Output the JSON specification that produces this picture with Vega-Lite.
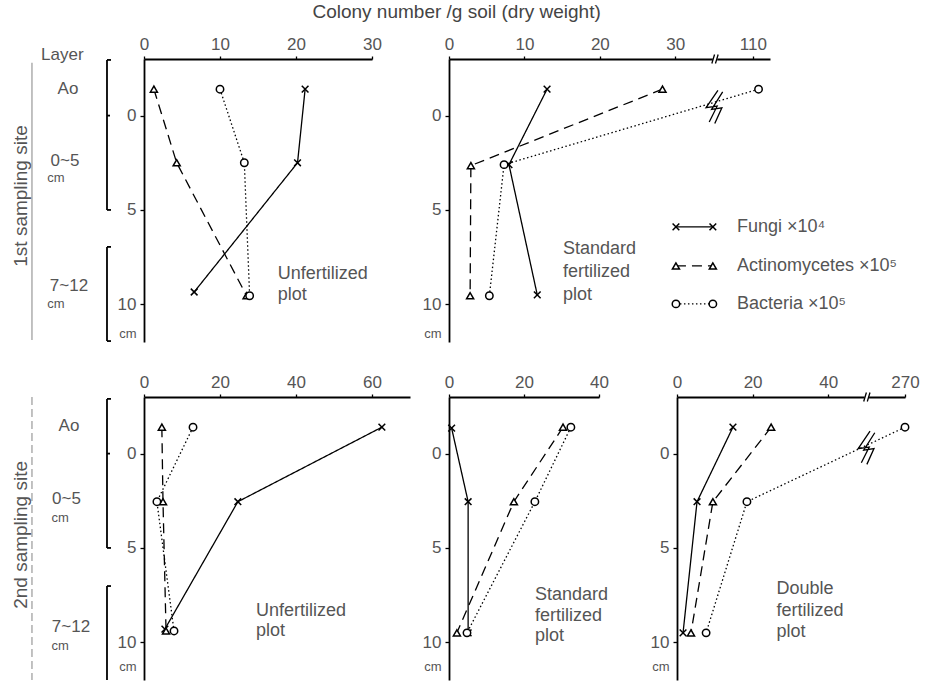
{
  "$schema": "https://vega.github.io/schema/vega-lite/v6.json",
  "padding": {"left": 0, "right": 0, "top": 3, "bottom": 0},
  "background": "white",
  "title": {"text": "Colony number  /g soil (dry weight)", "fontSize": 19, "font": "Liberation Sans", "fontWeight": "normal", "color": "#444", "anchor": "middle", "dx": -3, "offset": 13},
  "config": {
    "view": {"stroke": null},
    "text": {"font": "Liberation Sans"},
    "axis": {"domainColor": "black", "domainWidth": 1.8, "tickColor": "black", "tickWidth": 1.3, "labelColor": "#555", "labelFont": "Liberation Sans", "labelFontSize": 17, "labelFlush": false, "labelOverlap": false, "grid": false},
    "axisTop": {"tickSize": 3, "labelPadding": 3},
    "axisLeft": {"tickSize": 4, "labelPadding": 4}
  },
  "datasets": {
    "obs": [
      {"panel": "A", "series": "Fungi", "value": 21.2, "depth": -1.4},
      {"panel": "A", "series": "Fungi", "value": 20.2, "depth": 2.5},
      {"panel": "A", "series": "Fungi", "value": 6.6, "depth": 9.35},
      {"panel": "A", "series": "Actinomycetes", "value": 1.3, "depth": -1.4},
      {"panel": "A", "series": "Actinomycetes", "value": 4.3, "depth": 2.5},
      {"panel": "A", "series": "Actinomycetes", "value": 13.5, "depth": 9.55},
      {"panel": "A", "series": "Bacteria", "value": 10.0, "depth": -1.4},
      {"panel": "A", "series": "Bacteria", "value": 13.2, "depth": 2.5},
      {"panel": "A", "series": "Bacteria", "value": 13.9, "depth": 9.55},
      {"panel": "B", "series": "Fungi", "value": 13.0, "depth": -1.4},
      {"panel": "B", "series": "Fungi", "value": 7.95, "depth": 2.6},
      {"panel": "B", "series": "Fungi", "value": 11.7, "depth": 9.5},
      {"panel": "B", "series": "Actinomycetes", "value": 28.3, "depth": -1.4},
      {"panel": "B", "series": "Actinomycetes", "value": 2.9, "depth": 2.65},
      {"panel": "B", "series": "Actinomycetes", "value": 2.8, "depth": 9.55},
      {"panel": "B", "series": "Bacteria", "value": 110.8, "depth": -1.4},
      {"panel": "B", "series": "Bacteria", "value": 7.3, "depth": 2.6},
      {"panel": "B", "series": "Bacteria", "value": 5.35, "depth": 9.55},
      {"panel": "C", "series": "Fungi", "value": 62.6, "depth": -1.4},
      {"panel": "C", "series": "Fungi", "value": 24.7, "depth": 2.55},
      {"panel": "C", "series": "Fungi", "value": 5.5, "depth": 9.3},
      {"panel": "C", "series": "Actinomycetes", "value": 4.7, "depth": -1.4},
      {"panel": "C", "series": "Actinomycetes", "value": 5.0, "depth": 2.55},
      {"panel": "C", "series": "Actinomycetes", "value": 5.8, "depth": 9.4},
      {"panel": "C", "series": "Bacteria", "value": 12.9, "depth": -1.4},
      {"panel": "C", "series": "Bacteria", "value": 3.4, "depth": 2.55},
      {"panel": "C", "series": "Bacteria", "value": 7.9, "depth": 9.4},
      {"panel": "D", "series": "Fungi", "value": 0.7, "depth": -1.35},
      {"panel": "D", "series": "Fungi", "value": 5.1, "depth": 2.55},
      {"panel": "D", "series": "Fungi", "value": 5.1, "depth": 9.5},
      {"panel": "D", "series": "Actinomycetes", "value": 30.4, "depth": -1.4},
      {"panel": "D", "series": "Actinomycetes", "value": 17.3, "depth": 2.55},
      {"panel": "D", "series": "Actinomycetes", "value": 2.1, "depth": 9.5},
      {"panel": "D", "series": "Bacteria", "value": 32.5, "depth": -1.4},
      {"panel": "D", "series": "Bacteria", "value": 22.9, "depth": 2.55},
      {"panel": "D", "series": "Bacteria", "value": 4.8, "depth": 9.5},
      {"panel": "E", "series": "Fungi", "value": 14.8, "depth": -1.4},
      {"panel": "E", "series": "Fungi", "value": 5.3, "depth": 2.55},
      {"panel": "E", "series": "Fungi", "value": 1.6, "depth": 9.5},
      {"panel": "E", "series": "Actinomycetes", "value": 24.9, "depth": -1.4},
      {"panel": "E", "series": "Actinomycetes", "value": 9.5, "depth": 2.55},
      {"panel": "E", "series": "Actinomycetes", "value": 3.7, "depth": 9.5},
      {"panel": "E", "series": "Bacteria", "value": 270, "depth": -1.4},
      {"panel": "E", "series": "Bacteria", "value": 18.5, "depth": 2.55},
      {"panel": "E", "series": "Bacteria", "value": 7.7, "depth": 9.5}
    ],
    "notes": [
      {"panel": "A", "text": "Unfertilized", "value": 17.6, "depth": 8.4},
      {"panel": "A", "text": "plot", "value": 17.6, "depth": 9.53},
      {"panel": "B", "text": "Standard", "value": 15.1, "depth": 7.07},
      {"panel": "B", "text": "fertilized", "value": 15.1, "depth": 8.29},
      {"panel": "B", "text": "plot", "value": 15.1, "depth": 9.5},
      {"panel": "C", "text": "Unfertilized", "value": 29.5, "depth": 8.34},
      {"panel": "C", "text": "plot", "value": 29.5, "depth": 9.4},
      {"panel": "D", "text": "Standard", "value": 22.9, "depth": 7.49},
      {"panel": "D", "text": "fertilized", "value": 22.9, "depth": 8.6},
      {"panel": "D", "text": "plot", "value": 22.9, "depth": 9.67},
      {"panel": "E", "text": "Double", "value": 26.3, "depth": 7.17},
      {"panel": "E", "text": "fertilized", "value": 26.3, "depth": 8.34},
      {"panel": "E", "text": "plot", "value": 26.3, "depth": 9.45}
    ],
    "breaks": [
      {"panel": "B", "kind": "gap", "value": 70, "depth": -3},
      {"panel": "B", "kind": "slash", "value": 70, "depth": -3},
      {"panel": "B", "kind": "zig", "value": 52, "depth": -0.5},
      {"panel": "E", "kind": "gap", "value": 70, "depth": -3},
      {"panel": "E", "kind": "slash", "value": 70, "depth": -3},
      {"panel": "E", "kind": "zig", "value": 52, "depth": -0.35}
    ],
    "leg": [
      {"series": "Fungi", "lx": 70.7, "depth": 5.9},
      {"series": "Fungi", "lx": 82.2, "depth": 5.9},
      {"series": "Actinomycetes", "lx": 70.7, "depth": 7.97},
      {"series": "Actinomycetes", "lx": 82.2, "depth": 7.97},
      {"series": "Bacteria", "lx": 70.7, "depth": 9.98},
      {"series": "Bacteria", "lx": 82.2, "depth": 9.98}
    ],
    "legtext": [
      {"text": "Fungi ×10⁴", "lx": 89.7, "depth": 5.9},
      {"text": "Actinomycetes  ×10⁵", "lx": 89.7, "depth": 7.97},
      {"text": "Bacteria  ×10⁵", "lx": 89.7, "depth": 9.98}
    ],
    "annText": [
      {"row": 1, "kind": "site", "text": "1st sampling site", "value": 14.9, "depth": 4.26},
      {"row": 1, "kind": "label", "text": "Layer", "value": 43.3, "depth": -3.2},
      {"row": 1, "kind": "label", "text": "Ao", "value": 47.2, "depth": -1.41},
      {"row": 1, "kind": "label", "text": "0~5", "value": 45.1, "depth": 2.43},
      {"row": 1, "kind": "unit", "text": "cm", "value": 38.9, "depth": 3.3},
      {"row": 1, "kind": "label", "text": "7~12", "value": 47.9, "depth": 9.03},
      {"row": 1, "kind": "unit", "text": "cm", "value": 38.9, "depth": 9.98},
      {"row": 2, "kind": "site", "text": "2nd sampling site", "value": 14.9, "depth": 4.31},
      {"row": 2, "kind": "label", "text": "Ao", "value": 47.9, "depth": -1.46},
      {"row": 2, "kind": "label", "text": "0~5", "value": 46.2, "depth": 2.4},
      {"row": 2, "kind": "unit", "text": "cm", "value": 41.7, "depth": 3.4},
      {"row": 2, "kind": "label", "text": "7~12", "value": 49.3, "depth": 9.19},
      {"row": 2, "kind": "unit", "text": "cm", "value": 41.7, "depth": 10.2}
    ],
    "brackets": [
      {"row": 1, "kind": "site", "value": 22.2, "depth": -2.8, "depth2": 11.9},
      {"row": 1, "kind": "bar", "value": 74.3, "depth": -2.95, "depth2": 5.0},
      {"row": 1, "kind": "bar", "value": 74.3, "depth": 6.96, "depth2": 11.95},
      {"row": 1, "kind": "serif", "value": 74.3, "value2": 77.1, "depth": -2.95},
      {"row": 1, "kind": "serif", "value": 74.3, "value2": 76.4, "depth": 0},
      {"row": 1, "kind": "serif", "value": 74.3, "value2": 77.1, "depth": 5.0},
      {"row": 1, "kind": "serif", "value": 74.3, "value2": 77.1, "depth": 6.96},
      {"row": 1, "kind": "serif", "value": 74.3, "value2": 77.1, "depth": 11.95},
      {"row": 2, "kind": "site", "value": 22.2, "depth": -3, "depth2": 12},
      {"row": 2, "kind": "bar", "value": 74.3, "depth": -2.9, "depth2": 5.0},
      {"row": 2, "kind": "bar", "value": 74.3, "depth": 7.02, "depth2": 12},
      {"row": 2, "kind": "serif", "value": 74.3, "value2": 77.1, "depth": -2.9},
      {"row": 2, "kind": "serif", "value": 74.3, "value2": 76.4, "depth": 0},
      {"row": 2, "kind": "serif", "value": 74.3, "value2": 77.1, "depth": 5.0},
      {"row": 2, "kind": "serif", "value": 74.3, "value2": 77.1, "depth": 7.02}
    ]
  },
  "bounds": "flush",
  "spacing": 338,
  "vconcat": [
    {
      "bounds": "flush",
      "spacing": 0,
      "hconcat": [
        {
          "width": 144, "height": 283,
          "encoding": {
            "x": {"field": "value", "type": "quantitative", "scale": {"domain": [0, 100], "nice": false, "zero": false}, "axis": null},
            "y": {"field": "depth", "type": "quantitative", "scale": {"domain": [-3, 12], "reverse": true, "nice": false, "zero": false}, "axis": null}
          },
          "layer": [
            {"data": {"name": "brackets"}, "transform": [{"filter": "datum.row === 1 && datum.kind === 'site'"}], "mark": {"type": "rule", "color": "#999", "strokeWidth": 1.2}, "encoding": {"y2": {"field": "depth2"}}},
            {"data": {"name": "brackets"}, "transform": [{"filter": "datum.row === 1 && datum.kind === 'bar'"}], "mark": {"type": "rule", "color": "black", "strokeWidth": 1.8}, "encoding": {"y2": {"field": "depth2"}}},
            {"data": {"name": "brackets"}, "transform": [{"filter": "datum.row === 1 && datum.kind === 'serif'"}], "mark": {"type": "rule", "color": "black", "strokeWidth": 1.8}, "encoding": {"x2": {"field": "value2"}}},
            {"data": {"name": "annText"}, "transform": [{"filter": "datum.row === 1 && datum.kind === 'label'"}], "mark": {"type": "text", "align": "center", "baseline": "middle", "fontSize": 17, "color": "#555"}, "encoding": {"text": {"field": "text", "type": "nominal"}}},
            {"data": {"name": "annText"}, "transform": [{"filter": "datum.row === 1 && datum.kind === 'unit'"}], "mark": {"type": "text", "align": "center", "baseline": "middle", "fontSize": 13, "color": "#555"}, "encoding": {"text": {"field": "text", "type": "nominal"}}},
            {"data": {"name": "annText"}, "transform": [{"filter": "datum.row === 1 && datum.kind === 'site'"}], "mark": {"type": "text", "align": "center", "baseline": "middle", "fontSize": 19, "angle": 270, "color": "#555"}, "encoding": {"text": {"field": "text", "type": "nominal"}}}
          ]
        },
        {
          "bounds": "flush",
          "spacing": 77,
          "hconcat": [
            {
              "width": 228, "height": 283,
              "encoding": {
                "x": {"field": "value", "type": "quantitative", "scale": {"domain": [0, 30], "nice": false, "zero": false}, "axis": {"orient": "top", "values": [0, 10, 20, 30], "title": null}},
                "y": {"field": "depth", "type": "quantitative", "scale": {"domain": [-3, 12], "reverse": true, "nice": false, "zero": false}, "axis": {"orient": "left", "values": [0, 5, 10, 11.55], "labelExpr": "datum.value > 11 ? 'cm' : datum.label", "title": null, "tickOpacity": {"condition": {"test": "datum.value > 11", "value": 0}, "value": 1}, "labelFontSize": {"condition": {"test": "datum.value > 11", "value": 13}, "value": 17}}}
              },
              "layer": [
                {"data": {"name": "obs"}, "transform": [{"filter": "datum.panel === 'A'"}], "mark": {"type": "line", "color": "black", "strokeWidth": 1.3}, "encoding": {"detail": {"field": "series", "type": "nominal"}, "strokeDash": {"field": "series", "type": "nominal", "scale": {"domain": ["Fungi", "Actinomycetes", "Bacteria"], "range": [[1, 0], [10, 6], [1.5, 2.5]]}, "legend": null}, "order": {"field": "depth", "type": "quantitative"}}},
                {"data": {"name": "obs"}, "transform": [{"filter": "datum.panel === 'A'"}], "mark": {"type": "point", "filled": true, "fill": "white", "stroke": "black", "strokeWidth": 1.5, "opacity": 1}, "encoding": {"shape": {"field": "series", "type": "nominal", "scale": {"domain": ["Fungi", "Actinomycetes", "Bacteria"], "range": ["M-1,-1L1,1M-1,1L1,-1", "triangle-up", "circle"]}, "legend": null}, "size": {"field": "series", "type": "ordinal", "scale": {"domain": ["Fungi", "Actinomycetes", "Bacteria"], "range": [45, 55, 70]}, "legend": null}}},
                {"data": {"name": "notes"}, "transform": [{"filter": "datum.panel === 'A'"}], "mark": {"type": "text", "align": "left", "baseline": "middle", "fontSize": 18, "color": "#555"}, "encoding": {"text": {"field": "text", "type": "nominal"}}}
              ]
            },
            {
              "width": 321, "height": 283,
              "resolve": {"scale": {"x": "independent"}, "axis": {"x": "independent"}},
              "layer": [
                {
                  "encoding": {
                    "x": {"field": "value", "type": "quantitative", "scale": {"domain": [0, 35, 105, 112.4], "range": [0, 264, 268, 321], "nice": false, "zero": false}, "axis": {"orient": "top", "values": [0, 10, 20, 30, 110], "title": null}},
                    "y": {"field": "depth", "type": "quantitative", "scale": {"domain": [-3, 12], "reverse": true, "nice": false, "zero": false}, "axis": {"orient": "left", "values": [0, 5, 10, 11.55], "labelExpr": "datum.value > 11 ? 'cm' : datum.label", "title": null, "tickOpacity": {"condition": {"test": "datum.value > 11", "value": 0}, "value": 1}, "labelFontSize": {"condition": {"test": "datum.value > 11", "value": 13}, "value": 17}}}
                  },
                  "layer": [
                    {"data": {"name": "obs"}, "transform": [{"filter": "datum.panel === 'B'"}], "mark": {"type": "line", "color": "black", "strokeWidth": 1.3}, "encoding": {"detail": {"field": "series", "type": "nominal"}, "strokeDash": {"field": "series", "type": "nominal", "scale": {"domain": ["Fungi", "Actinomycetes", "Bacteria"], "range": [[1, 0], [10, 6], [1.5, 2.5]]}, "legend": null}, "order": {"field": "depth", "type": "quantitative"}}},
                    {"data": {"name": "obs"}, "transform": [{"filter": "datum.panel === 'B'"}], "mark": {"type": "point", "filled": true, "fill": "white", "stroke": "black", "strokeWidth": 1.5, "opacity": 1}, "encoding": {"shape": {"field": "series", "type": "nominal", "scale": {"domain": ["Fungi", "Actinomycetes", "Bacteria"], "range": ["M-1,-1L1,1M-1,1L1,-1", "triangle-up", "circle"]}, "legend": null}, "size": {"field": "series", "type": "ordinal", "scale": {"domain": ["Fungi", "Actinomycetes", "Bacteria"], "range": [45, 55, 70]}, "legend": null}}},
                    {"data": {"name": "notes"}, "transform": [{"filter": "datum.panel === 'B'"}], "mark": {"type": "text", "align": "left", "baseline": "middle", "fontSize": 18, "color": "#555"}, "encoding": {"text": {"field": "text", "type": "nominal"}}},
                    {"data": {"name": "breaks"}, "transform": [{"filter": "datum.panel === 'B' && datum.kind === 'gap'"}], "mark": {"type": "point", "shape": "square", "filled": true, "fill": "white", "strokeWidth": 0, "size": 20, "opacity": 1}},
                    {"data": {"name": "breaks"}, "transform": [{"filter": "datum.panel === 'B' && datum.kind === 'slash'"}], "mark": {"type": "point", "shape": "M-0.7,1L-0.1,-1M0.1,1L0.7,-1", "filled": false, "stroke": "black", "strokeWidth": 1.3, "size": 81, "opacity": 1}},
                    {"data": {"name": "breaks"}, "transform": [{"filter": "datum.panel === 'B' && datum.kind === 'zig'"}], "mark": {"type": "point", "shape": "M0.25,-1L-0.5,0.1L0.2,0L-0.3,1M0.55,-0.9L-0.15,0.2L0.5,0.1L0.05,1.1", "filled": false, "stroke": "black", "strokeWidth": 1.3, "size": 1000, "opacity": 1}}
                  ]
                },
                {
                  "encoding": {
                    "x": {"field": "lx", "type": "quantitative", "scale": {"domain": [0, 100], "nice": false, "zero": false}, "axis": null},
                    "y": {"field": "depth", "type": "quantitative", "scale": {"domain": [-3, 12], "reverse": true, "nice": false, "zero": false}}
                  },
                  "layer": [
                    {"data": {"name": "leg"}, "mark": {"type": "line", "color": "black", "strokeWidth": 1.3}, "encoding": {"detail": {"field": "series", "type": "nominal"}, "strokeDash": {"field": "series", "type": "nominal", "scale": {"domain": ["Fungi", "Actinomycetes", "Bacteria"], "range": [[1, 0], [10, 6], [1.5, 2.5]]}, "legend": null}, "order": {"field": "lx", "type": "quantitative"}}},
                    {"data": {"name": "leg"}, "mark": {"type": "point", "filled": true, "fill": "white", "stroke": "black", "strokeWidth": 1.5, "opacity": 1}, "encoding": {"shape": {"field": "series", "type": "nominal", "scale": {"domain": ["Fungi", "Actinomycetes", "Bacteria"], "range": ["M-1,-1L1,1M-1,1L1,-1", "triangle-up", "circle"]}, "legend": null}, "size": {"field": "series", "type": "ordinal", "scale": {"domain": ["Fungi", "Actinomycetes", "Bacteria"], "range": [45, 55, 70]}, "legend": null}}},
                    {"data": {"name": "legtext"}, "mark": {"type": "text", "align": "left", "baseline": "middle", "fontSize": 18, "color": "#555"}, "encoding": {"text": {"field": "text", "type": "nominal"}}}
                  ]
                }
              ]
            }
          ]
        }
      ]
    },
    {
      "bounds": "flush",
      "spacing": 0,
      "hconcat": [
        {
          "width": 144, "height": 283,
          "encoding": {
            "x": {"field": "value", "type": "quantitative", "scale": {"domain": [0, 100], "nice": false, "zero": false}, "axis": null},
            "y": {"field": "depth", "type": "quantitative", "scale": {"domain": [-3, 12], "reverse": true, "nice": false, "zero": false}, "axis": null}
          },
          "layer": [
            {"data": {"name": "brackets"}, "transform": [{"filter": "datum.row === 2 && datum.kind === 'site'"}], "mark": {"type": "rule", "color": "#999", "strokeWidth": 1.2, "strokeDash": [8, 4]}, "encoding": {"y2": {"field": "depth2"}}},
            {"data": {"name": "brackets"}, "transform": [{"filter": "datum.row === 2 && datum.kind === 'bar'"}], "mark": {"type": "rule", "color": "black", "strokeWidth": 1.8}, "encoding": {"y2": {"field": "depth2"}}},
            {"data": {"name": "brackets"}, "transform": [{"filter": "datum.row === 2 && datum.kind === 'serif'"}], "mark": {"type": "rule", "color": "black", "strokeWidth": 1.8}, "encoding": {"x2": {"field": "value2"}}},
            {"data": {"name": "annText"}, "transform": [{"filter": "datum.row === 2 && datum.kind === 'label'"}], "mark": {"type": "text", "align": "center", "baseline": "middle", "fontSize": 17, "color": "#555"}, "encoding": {"text": {"field": "text", "type": "nominal"}}},
            {"data": {"name": "annText"}, "transform": [{"filter": "datum.row === 2 && datum.kind === 'unit'"}], "mark": {"type": "text", "align": "center", "baseline": "middle", "fontSize": 13, "color": "#555"}, "encoding": {"text": {"field": "text", "type": "nominal"}}},
            {"data": {"name": "annText"}, "transform": [{"filter": "datum.row === 2 && datum.kind === 'site'"}], "mark": {"type": "text", "align": "center", "baseline": "middle", "fontSize": 19, "angle": 270, "color": "#555"}, "encoding": {"text": {"field": "text", "type": "nominal"}}}
          ]
        },
        {
          "bounds": "flush",
          "spacing": 39,
          "hconcat": [
            {
              "width": 266, "height": 283,
              "encoding": {
                "x": {"field": "value", "type": "quantitative", "scale": {"domain": [0, 70], "nice": false, "zero": false}, "axis": {"orient": "top", "values": [0, 20, 40, 60], "title": null}},
                "y": {"field": "depth", "type": "quantitative", "scale": {"domain": [-3, 12], "reverse": true, "nice": false, "zero": false}, "axis": {"orient": "left", "values": [0, 5, 10, 11.3], "labelExpr": "datum.value > 11 ? 'cm' : datum.label", "title": null, "tickOpacity": {"condition": {"test": "datum.value > 11", "value": 0}, "value": 1}, "labelFontSize": {"condition": {"test": "datum.value > 11", "value": 13}, "value": 17}}}
              },
              "layer": [
                {"data": {"name": "obs"}, "transform": [{"filter": "datum.panel === 'C'"}], "mark": {"type": "line", "color": "black", "strokeWidth": 1.3}, "encoding": {"detail": {"field": "series", "type": "nominal"}, "strokeDash": {"field": "series", "type": "nominal", "scale": {"domain": ["Fungi", "Actinomycetes", "Bacteria"], "range": [[1, 0], [10, 6], [1.5, 2.5]]}, "legend": null}, "order": {"field": "depth", "type": "quantitative"}}},
                {"data": {"name": "obs"}, "transform": [{"filter": "datum.panel === 'C'"}], "mark": {"type": "point", "filled": true, "fill": "white", "stroke": "black", "strokeWidth": 1.5, "opacity": 1}, "encoding": {"shape": {"field": "series", "type": "nominal", "scale": {"domain": ["Fungi", "Actinomycetes", "Bacteria"], "range": ["M-1,-1L1,1M-1,1L1,-1", "triangle-up", "circle"]}, "legend": null}, "size": {"field": "series", "type": "ordinal", "scale": {"domain": ["Fungi", "Actinomycetes", "Bacteria"], "range": [45, 55, 70]}, "legend": null}}},
                {"data": {"name": "notes"}, "transform": [{"filter": "datum.panel === 'C'"}], "mark": {"type": "text", "align": "left", "baseline": "middle", "fontSize": 18, "color": "#555"}, "encoding": {"text": {"field": "text", "type": "nominal"}}}
              ]
            },
            {
              "bounds": "flush",
              "spacing": 78,
              "hconcat": [
                {
                  "width": 150, "height": 283,
                  "encoding": {
                    "x": {"field": "value", "type": "quantitative", "scale": {"domain": [0, 40], "nice": false, "zero": false}, "axis": {"orient": "top", "values": [0, 20, 40], "title": null}},
                    "y": {"field": "depth", "type": "quantitative", "scale": {"domain": [-3, 12], "reverse": true, "nice": false, "zero": false}, "axis": {"orient": "left", "values": [0, 5, 10, 11.3], "labelExpr": "datum.value > 11 ? 'cm' : datum.label", "title": null, "tickOpacity": {"condition": {"test": "datum.value > 11", "value": 0}, "value": 1}, "labelFontSize": {"condition": {"test": "datum.value > 11", "value": 13}, "value": 17}}}
                  },
                  "layer": [
                    {"data": {"name": "obs"}, "transform": [{"filter": "datum.panel === 'D'"}], "mark": {"type": "line", "color": "black", "strokeWidth": 1.3}, "encoding": {"detail": {"field": "series", "type": "nominal"}, "strokeDash": {"field": "series", "type": "nominal", "scale": {"domain": ["Fungi", "Actinomycetes", "Bacteria"], "range": [[1, 0], [10, 6], [1.5, 2.5]]}, "legend": null}, "order": {"field": "depth", "type": "quantitative"}}},
                    {"data": {"name": "obs"}, "transform": [{"filter": "datum.panel === 'D'"}], "mark": {"type": "point", "filled": true, "fill": "white", "stroke": "black", "strokeWidth": 1.5, "opacity": 1}, "encoding": {"shape": {"field": "series", "type": "nominal", "scale": {"domain": ["Fungi", "Actinomycetes", "Bacteria"], "range": ["M-1,-1L1,1M-1,1L1,-1", "triangle-up", "circle"]}, "legend": null}, "size": {"field": "series", "type": "ordinal", "scale": {"domain": ["Fungi", "Actinomycetes", "Bacteria"], "range": [45, 55, 70]}, "legend": null}}},
                    {"data": {"name": "notes"}, "transform": [{"filter": "datum.panel === 'D'"}], "mark": {"type": "text", "align": "left", "baseline": "middle", "fontSize": 18, "color": "#555"}, "encoding": {"text": {"field": "text", "type": "nominal"}}}
                  ]
                },
                {
                  "width": 228, "height": 283,
                  "encoding": {
                    "x": {"field": "value", "type": "quantitative", "scale": {"domain": [0, 50, 262, 270], "range": [0, 189, 198, 228], "nice": false, "zero": false}, "axis": {"orient": "top", "values": [0, 20, 40, 270], "title": null}},
                    "y": {"field": "depth", "type": "quantitative", "scale": {"domain": [-3, 12], "reverse": true, "nice": false, "zero": false}, "axis": {"orient": "left", "values": [0, 5, 10, 11.3], "labelExpr": "datum.value > 11 ? 'cm' : datum.label", "title": null, "tickOpacity": {"condition": {"test": "datum.value > 11", "value": 0}, "value": 1}, "labelFontSize": {"condition": {"test": "datum.value > 11", "value": 13}, "value": 17}}}
                  },
                  "layer": [
                    {"data": {"name": "obs"}, "transform": [{"filter": "datum.panel === 'E'"}], "mark": {"type": "line", "color": "black", "strokeWidth": 1.3}, "encoding": {"detail": {"field": "series", "type": "nominal"}, "strokeDash": {"field": "series", "type": "nominal", "scale": {"domain": ["Fungi", "Actinomycetes", "Bacteria"], "range": [[1, 0], [10, 6], [1.5, 2.5]]}, "legend": null}, "order": {"field": "depth", "type": "quantitative"}}},
                    {"data": {"name": "obs"}, "transform": [{"filter": "datum.panel === 'E'"}], "mark": {"type": "point", "filled": true, "fill": "white", "stroke": "black", "strokeWidth": 1.5, "opacity": 1}, "encoding": {"shape": {"field": "series", "type": "nominal", "scale": {"domain": ["Fungi", "Actinomycetes", "Bacteria"], "range": ["M-1,-1L1,1M-1,1L1,-1", "triangle-up", "circle"]}, "legend": null}, "size": {"field": "series", "type": "ordinal", "scale": {"domain": ["Fungi", "Actinomycetes", "Bacteria"], "range": [45, 55, 70]}, "legend": null}}},
                    {"data": {"name": "notes"}, "transform": [{"filter": "datum.panel === 'E'"}], "mark": {"type": "text", "align": "left", "baseline": "middle", "fontSize": 18, "color": "#555"}, "encoding": {"text": {"field": "text", "type": "nominal"}}},
                    {"data": {"name": "breaks"}, "transform": [{"filter": "datum.panel === 'E' && datum.kind === 'gap'"}], "mark": {"type": "point", "shape": "square", "filled": true, "fill": "white", "strokeWidth": 0, "size": 20, "opacity": 1}},
                    {"data": {"name": "breaks"}, "transform": [{"filter": "datum.panel === 'E' && datum.kind === 'slash'"}], "mark": {"type": "point", "shape": "M-0.7,1L-0.1,-1M0.1,1L0.7,-1", "filled": false, "stroke": "black", "strokeWidth": 1.3, "size": 81, "opacity": 1}},
                    {"data": {"name": "breaks"}, "transform": [{"filter": "datum.panel === 'E' && datum.kind === 'zig'"}], "mark": {"type": "point", "shape": "M0.25,-1L-0.5,0.1L0.2,0L-0.3,1M0.55,-0.9L-0.15,0.2L0.5,0.1L0.05,1.1", "filled": false, "stroke": "black", "strokeWidth": 1.3, "size": 1000, "opacity": 1}}
                  ]
                }
              ]
            }
          ]
        }
      ]
    }
  ]
}
